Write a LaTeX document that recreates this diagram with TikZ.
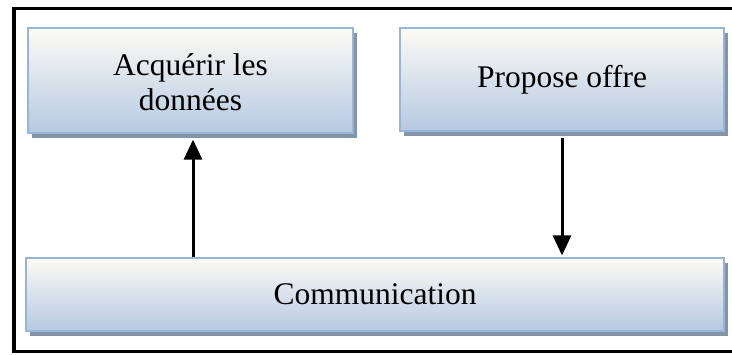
\documentclass[tikz,border=0pt]{standalone}
\usepackage{fontspec}
\setmainfont{Liberation Serif}
\usetikzlibrary{arrows.meta,shadows}
\definecolor{boxtop}{HTML}{FDFBF4}
\definecolor{boxbottom}{HTML}{B5C9E2}
\definecolor{boxedge}{HTML}{98B4D6}
\definecolor{boxshade}{HTML}{8393AA}
\tikzset{
  procbox/.style={
    rectangle, draw=boxedge, line width=1.2pt,
    top color=boxtop, bottom color=boxbottom,
    drop shadow={shadow xshift=4pt, shadow yshift=-5pt, fill=boxshade, opacity=1},
    align=center, inner sep=0pt,
    font=\fontsize{31.5}{36}\selectfont
  },
  flow/.style={line width=3pt, -{Triangle[length=20pt,width=18pt]}},
  frame/.style={line width=3pt, black}
}
\begin{document}
\begin{tikzpicture}[x=1pt, y=-1pt]
  \useasboundingbox (0,0) rectangle (732,354);
  % outer frame (its right side runs past the page edge)
  \draw[frame] (745,8) -- (14,8) -- (14,351) -- (745,351);
  \draw[line width=4.5pt] (14,6.5) -- (14,352.5);
  % process boxes
  \node[procbox, minimum width=325pt, minimum height=105pt] (acq) at (190.5,80.5)
    {\raisebox{-5pt}[\height][\depth]{\begin{tabular}{@{}c@{}}Acquérir les\\[-1pt]données\end{tabular}}};
  \node[procbox, minimum width=324pt, minimum height=103pt] (offre) at (562,79.5)
    {Propose offre};
  \node[procbox, minimum width=698pt, minimum height=73pt] (comm) at (375,294.5)
    {Communication};
  % data flow between the boxes
  \draw[flow] ([xshift=2.5pt]comm.north -| acq.south) -- ([xshift=2.5pt,yshift=-6pt]acq.south);
  \draw[flow] ([yshift=-6pt]offre.south) -- ([yshift=2pt]comm.north -| offre.south);
\end{tikzpicture}
\end{document}
